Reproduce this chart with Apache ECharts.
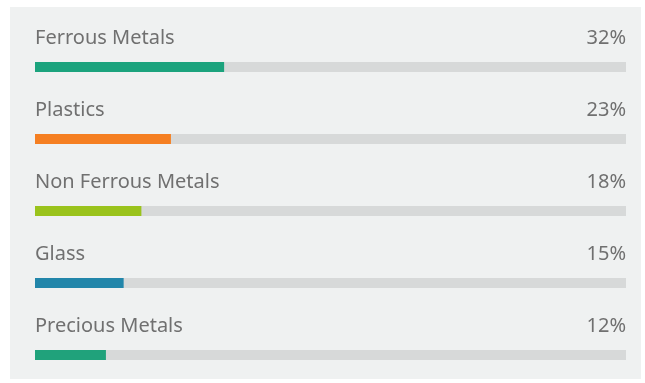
<!DOCTYPE html>
<html>
<head>
<meta charset="utf-8">
<script src="https://cdn.jsdelivr.net/npm/echarts@6/dist/echarts.min.js"></script>
<style>
  html, body { margin: 0; padding: 0; background: #ffffff; overflow: hidden; }
  #panel { position: absolute; left: 10px; top: 7px; width: 631px; height: 372px; background: #eff1f1; }
  #chart { position: absolute; left: 0; top: 0; width: 645px; height: 400px; }
</style>
</head>
<body>
<div id="panel"></div>
<div id="chart"></div>
<script>
// ===== 数据 =====
const categories = ["Ferrous Metals", "Plastics", "Non Ferrous Metals", "Glass", "Precious Metals"];
const shares = [32, 23, 18, 15, 12];
const barColors = ["#1ba37d", "#f57f22", "#9ac31c", "#2286aa", "#20a27b"];
const trackMax = 100;

const chart = echarts.init(document.getElementById("chart"));
const font = "'Noto Sans', 'Open Sans', sans-serif";

chart.setOption({
    animation: false,
    grid: { left: 35, right: 19, top: 31, height: 360 },
    xAxis: { type: "value", min: 0, max: trackMax, show: false },
    yAxis: { type: "category", data: categories, inverse: true, show: false },
    series: [
        {
            // 灰色底轨 + 右侧百分比
            type: "bar",
            barWidth: 10,
            barGap: "-100%",
            silent: true,
            itemStyle: { color: "#d7d9d9" },
            data: shares.map(() => trackMax),
            label: {
                show: true,
                position: ["100%", -24],
                align: "right",
                verticalAlign: "middle",
                fontFamily: font,
                fontSize: 20,
                color: "#707070",
                formatter: p => shares[p.dataIndex] + "%"
            }
        },
        {
            // 彩色进度 + 左侧名称
            type: "bar",
            barWidth: 10,
            barGap: "-100%",
            data: shares.map((v, i) => ({ value: v, itemStyle: { color: barColors[i] } })),
            label: {
                show: true,
                position: [0, -24],
                align: "left",
                verticalAlign: "middle",
                fontFamily: font,
                fontSize: 20,
                color: "#707070",
                formatter: p => p.name
            }
        }
    ]
});
</script>
</body>
</html>
